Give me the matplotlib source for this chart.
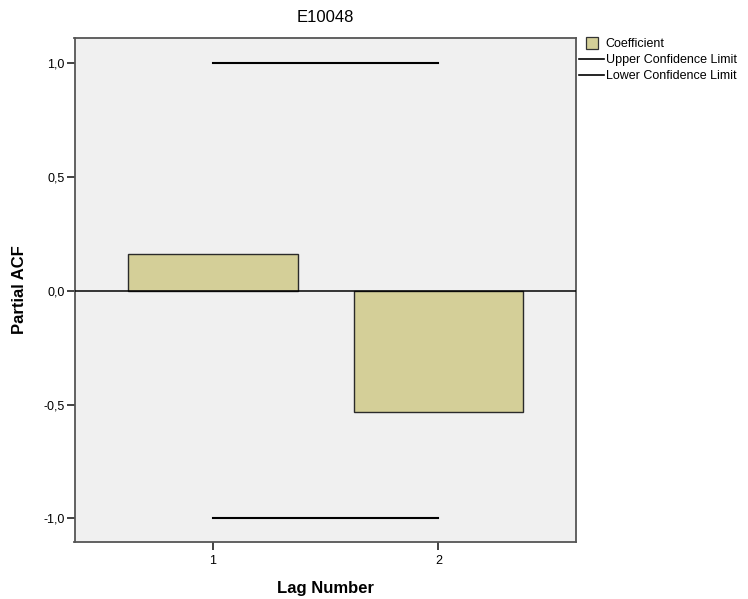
import matplotlib
matplotlib.use("Agg")
import matplotlib.pyplot as plt
from matplotlib.lines import Line2D

plt.rcParams['font.family'] = ['Liberation Sans', 'DejaVu Sans']

lags = [1, 2]
coefficients = [0.161, -0.533]
upper_conf = [1.0, 1.0]
lower_conf = [-1.0, -1.0]
ytick_vals = [-1.0, -0.5, 0.0, 0.5, 1.0]
ytick_labels = ["-1,0", "-0,5", "0,0", "0,5", "1,0"]
title = "E10048"
bar_color = "#d4cf98"

W, H = 748, 599
L, R, T, B = 74.5, 576, 38, 542.3

fig = plt.figure(figsize=(W/100, H/100), dpi=100)
ax = fig.add_axes([L/W, 1-B/H, (R-L)/W, (B-T)/H])
ax.set_facecolor("#f0f0f0")

ax.bar(lags, coefficients, width=0.752, color=bar_color, edgecolor="#2a2a2a", linewidth=1.0, zorder=2)
ax.plot(lags, upper_conf, color="black", linewidth=1.5, zorder=3)
ax.plot(lags, lower_conf, color="black", linewidth=1.5, zorder=3)
ax.axhline(0, color="black", linewidth=1.1, zorder=3)

ax.set_xlim(0.385, 2.611)
ax.set_ylim(-1.105, 1.11)
ax.set_xticks(lags)
ax.set_xticklabels([str(l) for l in lags], fontsize=9)
ax.set_yticks(ytick_vals)
ax.set_yticklabels(ytick_labels, fontsize=9)
ax.tick_params(axis="y", direction="out", length=6, width=1.2, colors="#222222", labelcolor="black", pad=1)
ax.tick_params(axis="x", direction="out", length=6, width=1.2, colors="#222222", labelcolor="black", pad=3)
for s in ax.spines.values():
    s.set_color("#555555")
    s.set_linewidth(1.3)

fig.text((L+R)/2/W, 1-18/H, title, ha="center", va="center", fontsize=12)
fig.text((L+R)/2/W, 1-589/H, "Lag Number", ha="center", va="center", fontsize=12, fontweight="bold")
fig.text(20/W, 1-290/H, "Partial ACF", ha="center", va="center", rotation=90, fontsize=12, fontweight="bold")

handles = [Line2D([0], [0], linestyle="none", marker="s", markersize=8, markerfacecolor=bar_color,
                  markeredgecolor="#333333", markeredgewidth=0.9, label="Coefficient"),
           Line2D([0], [0], color="black", lw=1.2, label="Upper Confidence Limit"),
           Line2D([0], [0], color="black", lw=1.2, label="Lower Confidence Limit")]
fig.legend(handles=handles, loc="upper left", bbox_to_anchor=(579/W, 1-38/H),
           frameon=False, fontsize=9, handlelength=2.0, handletextpad=0.15,
           labelspacing=0.32, borderaxespad=0, borderpad=0)

fig.savefig("out.png", dpi=100, facecolor="white")
